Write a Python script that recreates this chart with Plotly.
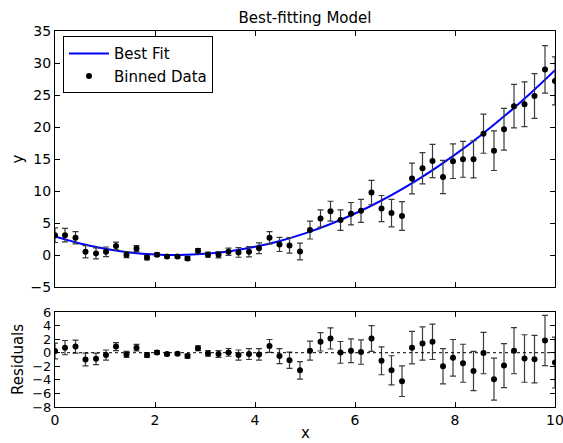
import plotly.graph_objects as go
from plotly.subplots import make_subplots

# ---- data ----
x_bins = [0.00, 0.20, 0.41, 0.61, 0.82, 1.02, 1.22, 1.43, 1.63, 1.84,
          2.04, 2.24, 2.45, 2.65, 2.86, 3.06, 3.27, 3.47, 3.67, 3.88,
          4.08, 4.29, 4.49, 4.69, 4.90, 5.10, 5.31, 5.51, 5.71, 5.92,
          6.12, 6.33, 6.53, 6.73, 6.94, 7.14, 7.35, 7.55, 7.76, 7.96,
          8.16, 8.37, 8.57, 8.78, 8.98, 9.18, 9.39, 9.59, 9.80, 10.00]

y_binned = [3.1, 3.1, 2.7, 0.5, 0.25, 0.5, 1.4, 0.05, 1.0, -0.4,
            0.05, -0.25, -0.25, -0.55, 0.65, 0.05, 0.05, 0.5, 0.4, 0.5,
            1.05, 2.7, 1.65, 1.5, 0.55, 3.9, 5.7, 6.85, 5.45, 6.45,
            6.9, 9.75, 7.25, 6.55, 6.1, 11.95, 13.55, 14.7, 12.2, 14.65,
            14.95, 14.95, 18.95, 16.3, 19.65, 23.25, 23.55, 24.85, 29.0, 27.2]

y_err = [1.15, 1.05, 0.95, 0.95, 0.85, 0.75, 0.6, 0.45, 0.47, 0.35,
         0.27, 0.22, 0.2, 0.3, 0.35, 0.4, 0.5, 0.57, 0.75, 0.8,
         0.85, 0.95, 1.1, 1.2, 1.3, 1.4, 1.35, 1.55, 1.6, 1.75,
         1.8, 1.9, 2.05, 2.15, 2.25, 2.4, 2.45, 2.6, 2.6, 2.7,
         2.8, 2.9, 3.05, 3.1, 3.25, 3.4, 3.5, 3.5, 3.7, 3.75]

residuals = [0.25, 0.75, 0.9, -1.0, -0.9, -0.35, 0.9, -0.25, 0.75, -0.35,
             0.05, -0.2, -0.15, -0.5, 0.65, -0.1, -0.2, 0.05, -0.35, -0.2,
             -0.25, 1.0, -0.5, -1.1, -2.6, 0.3, 1.6, 2.1, 0.05, 0.3,
             0.1, 2.1, -1.2, -2.6, -4.2, 0.75, 1.35, 1.6, -2.0, -0.75,
             -1.55, -2.7, -0.05, -3.9, -1.9, 0.3, -0.85, -0.95, 1.8, -1.45]

fit_x = [0, 0.5, 1, 1.5, 2, 2.5, 3, 3.5, 4, 4.5, 5,
         5.5, 6, 6.5, 7, 7.5, 8, 8.5, 9, 9.5, 10]
fit_y = [2.88, 1.8, 0.98, 0.4, 0.08, 0.0, 0.18, 0.6, 1.28, 2.2, 3.38,
         4.8, 6.48, 8.4, 10.58, 13.0, 15.68, 18.6, 21.78, 25.2, 28.88]

x_ticks = [0, 2, 4, 6, 8, 10]
y_ticks_top = [-5, 0, 5, 10, 15, 20, 25, 30, 35]
y_ticks_res = [-8, -6, -4, -2, 0, 2, 4, 6]

W, H = 563, 443
ml, mr, mt, mb = 55, 8, 31, 36
ph = H - mt - mb
top_dom = [(H - mb - 287) / ph, 1.0]
bot_dom = [0.0, (H - mb - 312) / ph]

FONT = "DejaVu Sans"

fig = make_subplots(rows=2, cols=1, shared_xaxes=False)

fig.add_trace(go.Scatter(
    x=fit_x, y=fit_y, mode="lines", name="Best Fit",
    line=dict(color="#0000ff", width=2, shape="spline"),
), row=1, col=1)

fig.add_trace(go.Scatter(
    x=x_bins, y=y_binned, mode="markers", name="Binned Data",
    marker=dict(color="black", size=6),
    error_y=dict(type="data", array=y_err, color="#3a3a3a", thickness=1.2, width=3),
), row=1, col=1)

fig.add_trace(go.Scatter(
    x=x_bins, y=residuals, mode="markers", showlegend=False,
    marker=dict(color="black", size=6),
    error_y=dict(type="data", array=y_err, color="#3a3a3a", thickness=1.2, width=3),
), row=2, col=1)

fig.add_hline(y=0, line=dict(color="black", width=1, dash="dot"), row=2, col=1)

axis_common = dict(
    showline=True, linecolor="black", linewidth=1, mirror="ticks",
    ticks="inside", ticklen=5, tickcolor="black", showgrid=False,
    zeroline=False, automargin=False, ticklabeloverflow="allow",
    tickfont=dict(family=FONT, size=14, color="black"),
)

fig.update_xaxes(axis_common)
fig.update_yaxes(axis_common)

fig.update_xaxes(range=[0, 10], tickvals=x_ticks, showticklabels=False,
                 domain=[0, 1], row=1, col=1)
fig.update_xaxes(range=[0, 10], tickvals=x_ticks, domain=[0, 1],
                 row=2, col=1)
fig.update_yaxes(range=[-5, 35], tickvals=y_ticks_top, domain=top_dom,
                 title=dict(text="y", font=dict(family=FONT, size=15, color="black"),
                            standoff=3),
                 row=1, col=1)
fig.update_yaxes(range=[-8, 6], tickvals=y_ticks_res, domain=bot_dom,
                 tickfont=dict(family=FONT, size=13, color="black"),
                 title=dict(text="Residuals", font=dict(family=FONT, size=15, color="black"),
                            standoff=4),
                 row=2, col=1)

# x-axis title placed below the tick labels
fig.add_annotation(text="x", xref="paper", yref="paper", x=0.5,
                   y=-(433 - (H - mb)) / ph, xanchor="center", yanchor="middle",
                   showarrow=False, font=dict(family=FONT, size=15, color="black"))

fig.update_layout(
    width=W, height=H,
    margin=dict(l=ml, r=mr, t=mt, b=mb),
    paper_bgcolor="white", plot_bgcolor="white",
    font=dict(family=FONT, size=14, color="black"),
    title=dict(text="Best-fitting Model", x=(ml + (W - ml - mr) / 2) / W,
               xanchor="center", y=1 - 18 / H, yanchor="middle",
               font=dict(family=FONT, size=15, color="black")),
    legend=dict(x=0.016, y=0.986, xanchor="left", yanchor="top",
                bordercolor="black", borderwidth=1, bgcolor="white",
                font=dict(family=FONT, size=15, color="black"),
                tracegroupgap=0, itemwidth=40),
    showlegend=True,
)

fig.write_html(
    "out.html",
    config={"displayModeBar": False},
    post_script="document.body.style.margin='0';document.body.style.overflow='hidden';",
)
